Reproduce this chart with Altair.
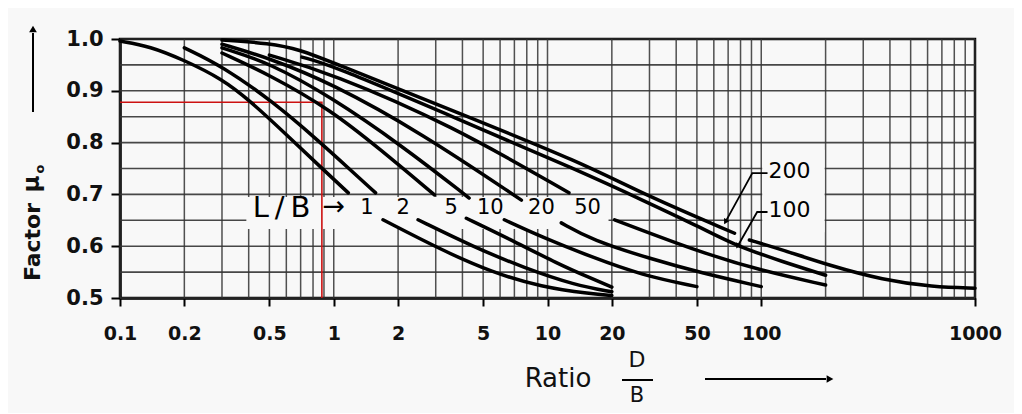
import altair as alt
import pandas as pd

# ---------------- axis ticks / grid ----------------
X_TICKS = [0.1, 0.2, 0.5, 1, 2, 5, 10, 20, 50, 100, 1000]
Y_TICKS = [0.5, 0.6, 0.7, 0.8, 0.9, 1.0]
GRID_X = [0.1, 0.2, 0.3, 0.4, 0.5, 0.6, 0.7, 0.8, 0.9,
          1, 2, 3, 4, 5, 6, 7, 8, 9,
          10, 20, 30, 40, 50, 60, 70, 80, 90,
          100, 200, 300, 400, 500, 600, 700, 800, 900, 1000]
GRID_Y = [0.5, 0.55, 0.6, 0.65, 0.7, 0.75, 0.8, 0.85, 0.9, 0.95, 1.0]

# ---------------- curves (D/B , mu0) ----------------
LB1_UP_DB = [0.1, 0.138, 0.2, 0.3, 0.408, 0.595, 0.887, 1.17]
LB1_UP_MU = [0.996, 0.986, 0.959, 0.923, 0.880, 0.817, 0.749, 0.703]
LB1_LO_DB = [1.70, 3.18, 5.46, 9.37, 16.1, 20.0]
LB1_LO_MU = [0.651, 0.593, 0.550, 0.521, 0.508, 0.505]

LB2_UP_DB = [0.2, 0.3, 0.523, 0.84, 1.17, 1.57]
LB2_UP_MU = [0.983, 0.948, 0.878, 0.805, 0.751, 0.703]
LB2_LO_DB = [2.48, 4.54, 7.80, 13.4, 20.0]
LB2_LO_MU = [0.651, 0.598, 0.558, 0.525, 0.512]

LB5_UP_DB = [0.3, 0.5, 0.97, 1.66, 2.96]
LB5_UP_MU = [0.973, 0.931, 0.863, 0.786, 0.699]
LB5_LO_DB = [4.17, 6.56, 11.3, 16.0, 20.0]
LB5_LO_MU = [0.654, 0.615, 0.565, 0.538, 0.521]

LB10_UP_DB = [0.3, 0.5, 0.97, 2.07, 4.30]
LB10_UP_MU = [0.983, 0.954, 0.888, 0.795, 0.693]
LB10_LO_DB = [6.28, 9.37, 16.1, 27.6, 50.0]
LB10_LO_MU = [0.651, 0.618, 0.579, 0.544, 0.522]

LB20_UP_DB = [0.3, 0.5, 0.97, 2.56, 7.55]
LB20_UP_MU = [0.990, 0.963, 0.915, 0.819, 0.689]
LB20_LO_DB = [11.6, 16.1, 30.7, 52.8, 100.0]
LB20_LO_MU = [0.645, 0.612, 0.575, 0.548, 0.522]

LB50_UP_DB = [0.5, 0.97, 3.54, 12.6]
LB50_UP_MU = [0.969, 0.934, 0.834, 0.703]
LB50_LO_DB = [20.6, 52.8, 100.0, 200.0]
LB50_LO_MU = [0.651, 0.587, 0.553, 0.525]

LB100_DB = [0.71, 0.97, 3.74, 14.5, 28.5, 52.8, 75.0, 126.0, 200.0]
LB100_MU = [0.965, 0.950, 0.847, 0.743, 0.687, 0.635, 0.602, 0.570, 0.544]

LB200_UP_DB = [0.3, 0.5, 0.70, 0.97, 3.74, 14.5, 28.5, 75.0]
LB200_UP_MU = [0.998, 0.992, 0.979, 0.956, 0.859, 0.761, 0.699, 0.625]
LB200_LO_DB = [88.0, 126.0, 211.0, 370.0, 635.0, 1000.0]
LB200_LO_MU = [0.612, 0.593, 0.562, 0.535, 0.521, 0.519]

# ---------------- red reading example ----------------
RED_DB = [0.1, 0.88, 0.88]
RED_MU = [0.878, 0.878, 0.5]

# ---------------- labels ----------------
LB_TEXT = ["1", "2", "5", "10", "20", "50"]
LB_TEXT_DB = [1.43, 2.11, 3.54, 5.40, 9.37, 15.4]
LB_TEXT_MU = [0.674, 0.674, 0.674, 0.674, 0.674, 0.674]
LB_HEAD = ["L\u2009/\u2009B"]
LB_HEAD_DB = [0.57]
LB_ARROW = ["→"]
LB_ARROW_DB = [1.0]

SIDE_TEXT = ["200", "100"]
SIDE_TEXT_DB = [108.0, 108.0]
SIDE_TEXT_MU = [0.745, 0.670]
LEADER_200_DB = [107.0, 90.8, 68.0]
LEADER_200_MU = [0.741, 0.741, 0.647]
LEADER_100_DB = [107.0, 95.7, 77.5]
LEADER_100_MU = [0.666, 0.666, 0.600]
HEAD_DB = [68.0, 77.5]
HEAD_MU = [0.647, 0.600]

# blank boxes behind the labels
BOX_DB = [0.39, 101.0]
BOX_DB2 = [19.3, 198.0]
BOX_MU = [0.633, 0.627]
BOX_MU2 = [0.695, 0.786]

Y_TITLE = ["Factor"]
Y_MU = ["μ"]
Y_SUB = ["o"]
X_TITLE = ["Ratio"]
FRAC_TOP = ["D"]
FRAC_BOT = ["B"]

FONT = "DejaVu Sans"
BG = "#f8f8f8"

# ---------------- build tables ----------------
rows = []
def add(key, dbs, mus):
    for i, (d, m) in enumerate(zip(dbs, mus)):
        rows.append({"key": key, "i": i, "db": d, "mu": m})

add("1u", LB1_UP_DB, LB1_UP_MU); add("1l", LB1_LO_DB, LB1_LO_MU)
add("2u", LB2_UP_DB, LB2_UP_MU); add("2l", LB2_LO_DB, LB2_LO_MU)
add("5u", LB5_UP_DB, LB5_UP_MU); add("5l", LB5_LO_DB, LB5_LO_MU)
add("10u", LB10_UP_DB, LB10_UP_MU); add("10l", LB10_LO_DB, LB10_LO_MU)
add("20u", LB20_UP_DB, LB20_UP_MU); add("20l", LB20_LO_DB, LB20_LO_MU)
add("50u", LB50_UP_DB, LB50_UP_MU); add("50l", LB50_LO_DB, LB50_LO_MU)
add("100", LB100_DB, LB100_MU)
add("200u", LB200_UP_DB, LB200_UP_MU); add("200l", LB200_LO_DB, LB200_LO_MU)
curves = pd.DataFrame(rows)

lead_rows = []
for i, (d, m) in enumerate(zip(LEADER_200_DB, LEADER_200_MU)):
    lead_rows.append({"key": "a", "i": i, "db": d, "mu": m})
for i, (d, m) in enumerate(zip(LEADER_100_DB, LEADER_100_MU)):
    lead_rows.append({"key": "b", "i": i, "db": d, "mu": m})
leaders = pd.DataFrame(lead_rows)

red = pd.DataFrame({"i": list(range(len(RED_DB))), "db": RED_DB, "mu": RED_MU})

xs = alt.Scale(type="log", domain=[0.1, 1000], nice=False)
ys = alt.Scale(domain=[0.5, 1.0], nice=False, zero=False)

x_axis = alt.Axis(values=X_TICKS, grid=False, title=None,
                  labelExpr="datum.value < 1 ? format(datum.value, '.1f') : format(datum.value, 'd')",
                  labelFont=FONT, labelFontWeight="bold", labelFontSize=19, labelColor="#111",
                  labelPadding=18, tickSize=8, tickWidth=2, tickColor="black",
                  domainColor="black", domainWidth=2.5, labelFlush=False, labelOverlap=False)
y_axis = alt.Axis(values=Y_TICKS, grid=False, title=None, format=".1f",
                  labelFont=FONT, labelFontWeight="bold", labelFontSize=21, labelColor="#111",
                  labelPadding=8, tickSize=9, tickWidth=2, tickColor="black",
                  domainColor="black", domainWidth=2.5)

X = alt.X("db:Q", scale=xs, axis=x_axis)
Y = alt.Y("mu:Q", scale=ys, axis=y_axis)

grid_v = alt.Chart(pd.DataFrame({"db": GRID_X})).mark_rule(
    color="#333333", strokeWidth=1.5, opacity=0.85).encode(x=X)
grid_h = alt.Chart(pd.DataFrame({"mu": GRID_Y})).mark_rule(
    color="#333333", strokeWidth=1.6, opacity=0.9).encode(y=Y)

boxes = alt.Chart(pd.DataFrame({"db": BOX_DB, "db2": BOX_DB2, "mu": BOX_MU, "mu2": BOX_MU2})).mark_rect(
    color=BG).encode(x=X, x2="db2:Q", y=Y, y2="mu2:Q")

red_line = alt.Chart(red).mark_line(color="#cc1111", strokeWidth=1.6).encode(
    x=X, y=Y, order="i:Q")

curve_lines = alt.Chart(curves).mark_line(
    color="black", strokeWidth=3.5, interpolate="basis", strokeCap="round").encode(
    x=X, y=Y, detail="key:N", order="i:Q")

lb_nums = alt.Chart(pd.DataFrame({"db": LB_TEXT_DB, "mu": LB_TEXT_MU, "t": LB_TEXT})).mark_text(
    font=FONT, fontSize=21, color="black", align="center", baseline="middle").encode(
    x=X, y=Y, text="t:N")
lb_head = alt.Chart(pd.DataFrame({"db": LB_HEAD_DB, "mu": [0.674], "t": LB_HEAD})).mark_text(
    font=FONT, fontSize=29, color="black", align="center", baseline="middle").encode(
    x=X, y=Y, text="t:N")
lb_arrow = alt.Chart(pd.DataFrame({"db": LB_ARROW_DB, "mu": [0.676], "t": LB_ARROW})).mark_text(
    font=FONT, fontSize=27, color="black", align="center", baseline="middle").encode(
    x=X, y=Y, text="t:N")

side_text = alt.Chart(pd.DataFrame({"db": SIDE_TEXT_DB, "mu": SIDE_TEXT_MU, "t": SIDE_TEXT})).mark_text(
    font=FONT, fontSize=22, color="black", align="left", baseline="middle").encode(
    x=X, y=Y, text="t:N")
leader_lines = alt.Chart(leaders).mark_line(color="black", strokeWidth=1.8).encode(
    x=X, y=Y, detail="key:N", order="i:Q")
leader_heads = alt.Chart(pd.DataFrame({"db": HEAD_DB, "mu": HEAD_MU})).mark_point(
    shape="triangle-up", filled=True, color="black", size=40, angle=209, opacity=1).encode(x=X, y=Y)

# ----- axis titles (outside the plot, pixel positions) -----
one = pd.DataFrame({"k": [0]})
y_title = alt.Chart(pd.DataFrame({"t": Y_TITLE})).mark_text(
    font=FONT, fontSize=22, fontWeight="bold", angle=270, align="center", baseline="middle",
    color="#111").encode(x=alt.value(-87), y=alt.value(203), text="t:N")
y_mu = alt.Chart(pd.DataFrame({"t": Y_MU})).mark_text(
    font=FONT, fontSize=23, fontWeight="bold", angle=270, align="center", baseline="middle",
    color="#111").encode(x=alt.value(-88), y=alt.value(145), text="t:N")
y_sub = alt.Chart(pd.DataFrame({"t": Y_SUB})).mark_text(
    font=FONT, fontSize=13, fontWeight="bold", angle=270, align="center", baseline="middle",
    color="#111").encode(x=alt.value(-80), y=alt.value(130), text="t:N")
y_arrow = alt.Chart(one).mark_rule(color="black", strokeWidth=2).encode(
    x=alt.value(-87), y=alt.value(73), y2=alt.value(-6))
y_arrow_head = alt.Chart(one).mark_point(shape="triangle-up", filled=True, color="black",
                                         size=60, opacity=1).encode(
    x=alt.value(-87), y=alt.value(-10))

x_title = alt.Chart(pd.DataFrame({"t": X_TITLE})).mark_text(
    font=FONT, fontSize=26, align="center", baseline="middle", color="#111").encode(
    x=alt.value(438), y=alt.value(340), text="t:N")
frac_top = alt.Chart(pd.DataFrame({"t": FRAC_TOP})).mark_text(
    font=FONT, fontSize=22, align="center", baseline="middle", color="#111").encode(
    x=alt.value(517), y=alt.value(321), text="t:N")
frac_bot = alt.Chart(pd.DataFrame({"t": FRAC_BOT})).mark_text(
    font=FONT, fontSize=21, align="center", baseline="middle", color="#111").encode(
    x=alt.value(517), y=alt.value(357), text="t:N")
frac_bar = alt.Chart(one).mark_rule(color="black", strokeWidth=2).encode(
    x=alt.value(502), x2=alt.value(533), y=alt.value(341))
x_arrow = alt.Chart(one).mark_rule(color="black", strokeWidth=2).encode(
    x=alt.value(585), x2=alt.value(706), y=alt.value(340))
x_arrow_head = alt.Chart(one).mark_point(shape="triangle-right", filled=True, color="black",
                                         size=60, opacity=1).encode(
    x=alt.value(710), y=alt.value(340))

chart = alt.layer(
    grid_v, grid_h, boxes, red_line, curve_lines,
    lb_head, lb_arrow, lb_nums, side_text, leader_lines, leader_heads,
    y_title, y_mu, y_sub, y_arrow, y_arrow_head,
    x_title, frac_top, frac_bot, frac_bar, x_arrow, x_arrow_head,
).properties(
    width=855, height=259,
    autosize=alt.AutoSizeParams(type="none"),
    padding={"left": 112, "top": 31, "right": 39, "bottom": 115},
    background=BG,
).configure_view(stroke="black", strokeWidth=2.5)

chart.save("out.html", embed_options={"renderer": "svg", "actions": False})
